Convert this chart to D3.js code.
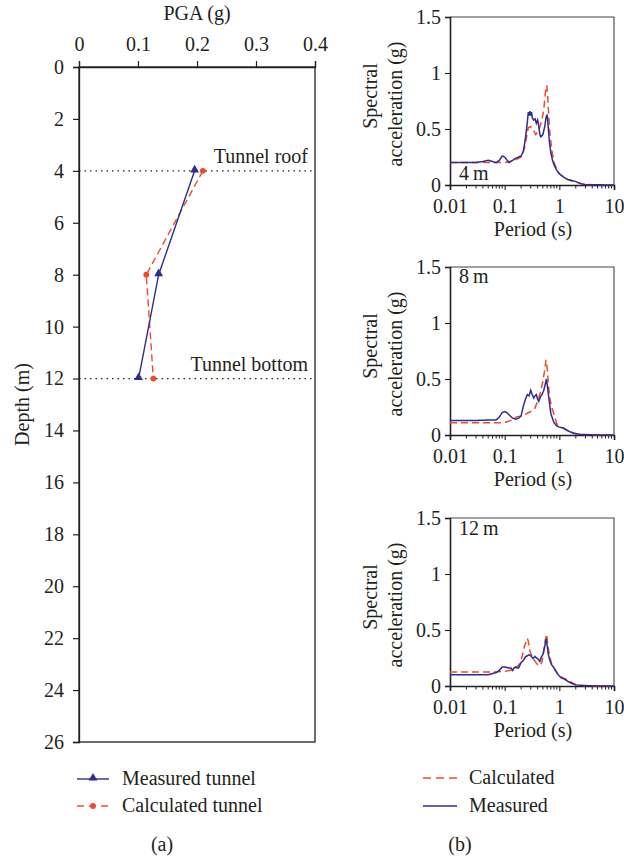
<!DOCTYPE html>
<html>
<head>
<meta charset="utf-8">
<script src="https://cdn.jsdelivr.net/npm/d3@7"></script>
<style>
  html, body { margin: 0; padding: 0; background: #fff; }
  svg text { font-family: "Liberation Serif", "Times New Roman", serif; fill: #231f20; }
</style>
</head>
<body>
<svg id="fig" width="624" height="861"></svg>
<script>
// ---- PGA profile along the tunnel (panel a) ----
const depthTicks = [0, 2, 4, 6, 8, 10, 12, 14, 16, 18, 20, 22, 24, 26];
const pgaTicks = [0, 0.1, 0.2, 0.3, 0.4];
const tunnelDepths = [4, 8, 12];
const pgaMeasured = [0.196, 0.135, 0.101];
const pgaCalculated = [0.21, 0.114, 0.126];
const tunnelMarkers = [{ depth: 4, label: "Tunnel roof" }, { depth: 12, label: "Tunnel bottom" }];

// ---- Response spectra at three depths (panel b) ----
const spectraLabels = ["4\u2009m", "8\u2009m", "12\u2009m"];
const periodTicks = [0.01, 0.1, 1, 10];
const saTicks = [0, 0.5, 1, 1.5];

const period4Meas = [0.01,0.02,0.03,0.04,0.05,0.06,0.07,0.08,0.09,0.1,0.12,0.14,0.16,0.18,0.2,0.22,0.24,0.26,0.27,0.28,0.29,0.3,0.31,0.32,0.34,0.36,0.38,0.4,0.42,0.44,0.46,0.5,0.54,0.57,0.6,0.63,0.66,0.7,0.75,0.8,0.9,1.0,1.2,1.4,1.7,2.0,2.5,3,4,5,7,10];
const sa4Meas     = [0.20,0.20,0.20,0.21,0.22,0.21,0.20,0.22,0.26,0.25,0.20,0.22,0.24,0.25,0.26,0.30,0.42,0.56,0.65,0.62,0.66,0.62,0.65,0.60,0.58,0.59,0.55,0.58,0.53,0.45,0.43,0.45,0.52,0.60,0.63,0.50,0.38,0.29,0.22,0.18,0.13,0.10,0.07,0.05,0.04,0.03,0.01,0.005,0.003,0.002,0.001,0.001];
const period4Calc = [0.01,0.05,0.1,0.15,0.2,0.23,0.25,0.27,0.3,0.33,0.37,0.4,0.44,0.48,0.52,0.56,0.59,0.62,0.66,0.72,0.8,0.9,1.0,1.2,1.5,2,3,5,10];
const sa4Calc     = [0.20,0.20,0.20,0.22,0.25,0.33,0.42,0.51,0.52,0.50,0.45,0.47,0.52,0.58,0.68,0.84,0.89,0.75,0.50,0.33,0.20,0.14,0.10,0.07,0.045,0.025,0.006,0.002,0.001];

const period8Meas = [0.01,0.03,0.05,0.07,0.08,0.09,0.1,0.11,0.12,0.14,0.16,0.18,0.2,0.22,0.24,0.26,0.28,0.3,0.32,0.34,0.36,0.38,0.4,0.42,0.45,0.48,0.52,0.55,0.58,0.61,0.65,0.7,0.8,0.9,1.0,1.2,1.4,1.8,2.5,4,10];
const sa8Meas     = [0.13,0.13,0.135,0.135,0.16,0.20,0.21,0.20,0.18,0.15,0.14,0.15,0.17,0.26,0.32,0.36,0.35,0.40,0.36,0.33,0.35,0.36,0.32,0.30,0.34,0.36,0.40,0.45,0.50,0.42,0.31,0.19,0.11,0.08,0.07,0.06,0.04,0.015,0.005,0.002,0.001];
const period8Calc = [0.01,0.03,0.06,0.1,0.13,0.16,0.2,0.25,0.3,0.35,0.4,0.45,0.5,0.54,0.57,0.6,0.63,0.67,0.72,0.78,0.85,0.9,1.0,1.2,1.5,2,3,5,10];
const sa8Calc     = [0.11,0.11,0.11,0.11,0.13,0.16,0.17,0.19,0.21,0.23,0.30,0.38,0.48,0.58,0.67,0.60,0.45,0.33,0.25,0.20,0.14,0.10,0.08,0.06,0.035,0.012,0.004,0.002,0.001];

const period12Meas = [0.01,0.02,0.03,0.05,0.07,0.08,0.09,0.1,0.11,0.12,0.13,0.14,0.15,0.16,0.17,0.18,0.2,0.22,0.24,0.26,0.28,0.3,0.33,0.36,0.38,0.41,0.44,0.47,0.5,0.54,0.57,0.6,0.63,0.67,0.72,0.78,0.85,0.92,1.0,1.1,1.27,1.45,1.67,2,2.5,4,10];
const sa12Meas     = [0.10,0.10,0.10,0.10,0.12,0.14,0.17,0.17,0.165,0.16,0.16,0.14,0.165,0.17,0.16,0.16,0.21,0.23,0.26,0.27,0.28,0.27,0.245,0.265,0.25,0.24,0.22,0.26,0.28,0.35,0.42,0.36,0.28,0.23,0.19,0.17,0.14,0.11,0.09,0.07,0.06,0.04,0.025,0.01,0.005,0.002,0.001];
const period12Calc = [0.01,0.03,0.06,0.1,0.13,0.16,0.19,0.21,0.23,0.25,0.26,0.27,0.29,0.32,0.36,0.4,0.44,0.48,0.51,0.55,0.585,0.62,0.67,0.72,0.8,0.9,1.0,1.2,1.5,2,3,5,10];
const sa12Calc     = [0.125,0.125,0.125,0.13,0.14,0.16,0.20,0.27,0.35,0.41,0.425,0.40,0.31,0.26,0.22,0.19,0.18,0.21,0.29,0.40,0.465,0.35,0.26,0.20,0.16,0.12,0.09,0.07,0.045,0.012,0.004,0.002,0.001];

const BLUE = "#2e2d8f";
const RED = "#ef4a2b";
const INK = "#231f20";
const FONT = 20;

const svg = d3.select("#fig");

// ================= Panel (a) =================
const A = { left: 79, right: 315, top: 67, bottom: 742 };
const xPga = d3.scaleLinear().domain([0, 0.4]).range([A.left, A.right]);
const yDepth = d3.scaleLinear().domain([0, 26]).range([A.top, A.bottom]);

const gA = svg.append("g");

gA.append("rect")
  .attr("x", A.left).attr("y", A.top)
  .attr("width", A.right - A.left).attr("height", A.bottom - A.top)
  .attr("fill", "none").attr("stroke", INK).attr("stroke-width", 1.3);

const axTop = gA.append("g").attr("transform", `translate(0,${A.top})`)
  .call(d3.axisTop(xPga).tickValues(pgaTicks).tickSize(6).tickPadding(10)
    .tickFormat(d => d === 0 ? "0" : d3.format(".1f")(d)));
const axLeft = gA.append("g").attr("transform", `translate(${A.left},0)`)
  .call(d3.axisLeft(yDepth).tickValues(depthTicks).tickSize(6).tickPadding(9).tickFormat(d3.format("d")));
[axTop, axLeft].forEach(ax => {
  ax.select(".domain").attr("stroke", INK).attr("stroke-width", 1.3);
  ax.selectAll(".tick line").attr("stroke", INK).attr("stroke-width", 1.2);
  ax.selectAll(".tick text").attr("font-size", FONT).attr("font-family", "Liberation Serif").attr("fill", INK);
});

gA.append("text").attr("x", (A.left + A.right) / 2).attr("y", 20)
  .attr("text-anchor", "middle").attr("font-size", FONT).text("PGA (g)");
gA.append("text").attr("transform", `translate(29,${(A.top + A.bottom) / 2}) rotate(-90)`)
  .attr("text-anchor", "middle").attr("font-size", FONT).text("Depth (m)");

// tunnel roof / bottom reference lines
tunnelMarkers.forEach(m => {
  gA.append("line")
    .attr("x1", A.left).attr("x2", A.right)
    .attr("y1", yDepth(m.depth)).attr("y2", yDepth(m.depth))
    .attr("stroke", INK).attr("stroke-width", 1.2).attr("stroke-dasharray", "1.5,4");
  gA.append("text").attr("x", A.right - 7).attr("y", yDepth(m.depth) - 8)
    .attr("text-anchor", "end").attr("font-size", FONT).text(m.label);
});

const pgaLine = d3.line().x(d => xPga(d.v)).y(d => yDepth(d.d));
const measPts = tunnelDepths.map((d, i) => ({ d, v: pgaMeasured[i] }));
const calcPts = tunnelDepths.map((d, i) => ({ d, v: pgaCalculated[i] }));

gA.append("path").datum(calcPts).attr("d", pgaLine)
  .attr("fill", "none").attr("stroke", RED).attr("stroke-width", 1.4).attr("stroke-dasharray", "7,4");
gA.append("path").datum(measPts).attr("d", pgaLine)
  .attr("fill", "none").attr("stroke", BLUE).attr("stroke-width", 1.4);

const triSym = d3.symbol().type(d3.symbolTriangle).size(34);
const diaSym = d3.symbol().type(d3.symbolCircle).size(26);
gA.selectAll(".calcMk").data(calcPts).enter().append("path")
  .attr("d", diaSym).attr("transform", d => `translate(${xPga(d.v)},${yDepth(d.d)})`).attr("fill", RED);
gA.selectAll(".measMk").data(measPts).enter().append("path")
  .attr("d", triSym).attr("transform", d => `translate(${xPga(d.v)},${yDepth(d.d) - 1})`).attr("fill", BLUE);

// legend (a)
const legA = svg.append("g");
legA.append("line").attr("x1", 77).attr("x2", 109).attr("y1", 779).attr("y2", 779)
  .attr("stroke", BLUE).attr("stroke-width", 1.4);
legA.append("path").attr("d", triSym).attr("transform", "translate(93,778)").attr("fill", BLUE);
legA.append("text").attr("x", 122).attr("y", 785).attr("font-size", FONT).text("Measured tunnel");
legA.append("line").attr("x1", 77).attr("x2", 109).attr("y1", 806).attr("y2", 806)
  .attr("stroke", RED).attr("stroke-width", 1.4).attr("stroke-dasharray", "7,5");
legA.append("path").attr("d", diaSym).attr("transform", "translate(93,806)").attr("fill", RED);
legA.append("text").attr("x", 122).attr("y", 812).attr("font-size", FONT).text("Calculated tunnel");
svg.append("text").attr("x", 162).attr("y", 851).attr("text-anchor", "middle").attr("font-size", FONT).text("(a)");

// ================= Panel (b) =================
const spectra = [
  { label: spectraLabels[0], top: 17, meas: [period4Meas, sa4Meas], calc: [period4Calc, sa4Calc], labelY: 180 },
  { label: spectraLabels[1], top: 267, meas: [period8Meas, sa8Meas], calc: [period8Calc, sa8Calc], labelY: 283 },
  { label: spectraLabels[2], top: 518, meas: [period12Meas, sa12Meas], calc: [period12Calc, sa12Calc], labelY: 535 }
];
const B = { left: 450, right: 614, h: 168 };

spectra.forEach(p => {
  const top = p.top, bottom = top + B.h;
  const x = d3.scaleLog().domain([0.01, 10]).range([B.left, B.right]);
  const y = d3.scaleLinear().domain([0, 1.5]).range([bottom, top]);
  const g = svg.append("g");

  // lighter frame on top/right
  g.append("path").attr("d", `M${B.left},${top}H${B.right}V${bottom}`)
    .attr("fill", "none").attr("stroke", "#444").attr("stroke-width", 1.1);

  const ax = g.append("g").attr("transform", `translate(0,${bottom})`)
    .call(d3.axisBottom(x).tickValues(periodTicks).tickSize(5).tickPadding(9)
      .tickFormat(d => d >= 1 ? d3.format("d")(d) : String(d)));
  // minor log ticks
  const minor = x.ticks().filter(t => !periodTicks.includes(+t.toPrecision(6)));
  g.selectAll(".minor").data(minor).enter().append("line")
    .attr("x1", d => x(d)).attr("x2", d => x(d))
    .attr("y1", bottom).attr("y2", bottom + 3.5)
    .attr("stroke", INK).attr("stroke-width", 1);

  const ay = g.append("g").attr("transform", `translate(${B.left},0)`)
    .call(d3.axisLeft(y).tickValues(saTicks).tickSize(5).tickPadding(4)
      .tickFormat(d => String(d)));
  [ax, ay].forEach(a => {
    a.select(".domain").attr("stroke", INK).attr("stroke-width", 1.6);
    a.selectAll(".tick line").attr("stroke", INK).attr("stroke-width", 1.1);
    a.selectAll(".tick text").attr("font-size", FONT).attr("font-family", "Liberation Serif").attr("fill", INK);
  });

  const line = d3.line().x(d => x(d[0])).y(d => y(d[1]));
  const calc = p.calc[0].map((t, i) => [t, p.calc[1][i]]);
  const meas = p.meas[0].map((t, i) => [t, p.meas[1][i]]);
  g.append("path").datum(calc).attr("d", line)
    .attr("fill", "none").attr("stroke", RED).attr("stroke-width", 1.5).attr("stroke-dasharray", "7,4");
  g.append("path").datum(meas).attr("d", line)
    .attr("fill", "none").attr("stroke", BLUE).attr("stroke-width", 1.5);

  g.append("text").attr("x", 459).attr("y", p.labelY).attr("font-size", FONT).text(p.label);

  const cy = (top + bottom) / 2;
  g.append("text").attr("transform", `translate(377,${cy - 5}) rotate(-90)`)
    .attr("text-anchor", "middle").attr("font-size", FONT).text("Spectral");
  g.append("text").attr("transform", `translate(402,${cy + 3}) rotate(-90)`)
    .attr("text-anchor", "middle").attr("font-size", FONT).text("acceleration (g)");
  g.append("text").attr("x", (B.left + B.right) / 2 + 1).attr("y", bottom + 51)
    .attr("text-anchor", "middle").attr("font-size", FONT).text("Period (s)");
});

// legend (b)
const legB = svg.append("g");
legB.append("line").attr("x1", 423).attr("x2", 457).attr("y1", 778).attr("y2", 778)
  .attr("stroke", RED).attr("stroke-width", 1.4).attr("stroke-dasharray", "8,5");
legB.append("text").attr("x", 469).attr("y", 784).attr("font-size", FONT).text("Calculated");
legB.append("line").attr("x1", 423).attr("x2", 457).attr("y1", 806).attr("y2", 806)
  .attr("stroke", BLUE).attr("stroke-width", 1.4);
legB.append("text").attr("x", 469).attr("y", 812).attr("font-size", FONT).text("Measured");
svg.append("text").attr("x", 460).attr("y", 851).attr("text-anchor", "middle").attr("font-size", FONT).text("(b)");
</script>
</body>
</html>
